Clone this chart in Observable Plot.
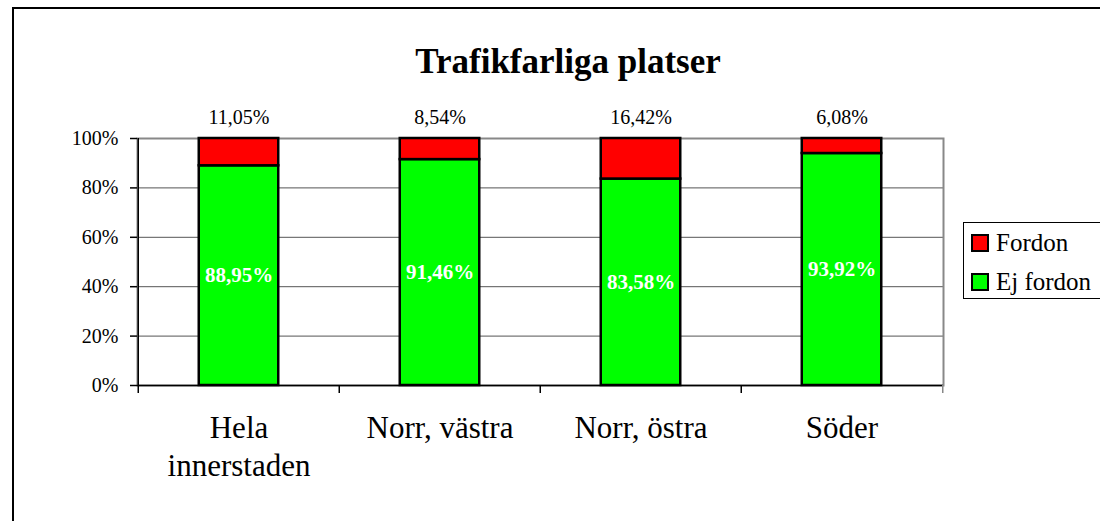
<!DOCTYPE html>
<html>
<head>
<meta charset="utf-8">
<script src="https://cdn.jsdelivr.net/npm/d3@7"></script>
<script src="https://cdn.jsdelivr.net/npm/@observablehq/plot@0.6"></script>
<style>
  html, body { margin: 0; padding: 0; background: #fff; overflow: hidden; }
  #wrap { position: relative; width: 1100px; height: 521px; font-family: "Liberation Serif", "Times New Roman", serif; }
  #border { position: absolute; left: 12px; top: 7px; width: 2000px; height: 2000px; border-left: 2px solid #000; border-top: 2px solid #000; }
  #title { position: absolute; left: 568px; top: 42px; transform: translateX(-50%); font-family: "Liberation Serif", serif; font-size: 35px; font-weight: bold; line-height: 40px; white-space: nowrap; color: #000; }
  #legend { position: absolute; left: 963px; top: 222px; width: 160px; height: 77px; border: 1px solid #000; box-sizing: border-box; }
  .item { position: absolute; left: 7px; display: flex; align-items: center; font-family: "Liberation Serif", serif; font-size: 25px; line-height: 30px; white-space: nowrap; color: #000; }
  .item span { font-family: "Liberation Serif", serif; }
  .sw { width: 14px; height: 14px; border: 2px solid #000; margin-right: 7px; }
  svg { position: absolute; left: 0; top: 0; }
</style>
</head>
<body>
<div id="wrap">
  <div id="border"></div>
  <div id="chart"></div>
  <div id="title"></div>
  <div id="legend"></div>
</div>
<script>
const title = "Trafikfarliga platser";
const categories = ["Hela\ninnerstaden", "Norr, västra", "Norr, östra", "Söder"];
const fordon = [11.05, 8.54, 16.42, 6.08];
const ejFordon = [88.95, 91.46, 83.58, 93.92];
const seriesNames = ["Fordon", "Ej fordon"];
const seriesColors = ["#ff0000", "#00ff00"];
const yTicks = [0, 20, 40, 60, 80, 100];

const fmt = v => v.toFixed(2).replace(".", ",") + "%";

const rows = [];
categories.forEach((c, i) => {
  rows.push({cat: c, series: "Ej fordon", y1: 0, y2: ejFordon[i], value: ejFordon[i]});
  rows.push({cat: c, series: "Fordon", y1: ejFordon[i], y2: ejFordon[i] + fordon[i], value: fordon[i]});
});
const ejRows = rows.filter(d => d.series === "Ej fordon");
const fRows = rows.filter(d => d.series === "Fordon");

const W = 1100, H = 521;
const mL = 137, mR = 157, mT = 138, mB = 136;
const bw = (W - mL - mR) / categories.length;
const barW = 80;
const inset = (bw - barW) / 2;

const chart = Plot.plot({
  width: W,
  height: H,
  marginLeft: mL,
  marginRight: mR,
  marginTop: mT,
  marginBottom: mB,
  style: {fontFamily: "'Liberation Serif', 'Times New Roman', serif", background: "transparent", color: "#000"},
  x: {type: "band", domain: categories, padding: 0, label: null},
  y: {domain: [0, 100], label: null},
  color: {domain: seriesNames, range: seriesColors},
  marks: [
    Plot.gridY({ticks: [20, 40, 60, 80], stroke: "#555", strokeOpacity: 1, strokeWidth: 1}),
    Plot.frame({stroke: "#888", strokeWidth: 2}),
    Plot.barY(rows, {x: "cat", y1: "y1", y2: "y2", fill: "series", stroke: "#000", strokeWidth: 2.5, insetLeft: inset, insetRight: inset}),
    Plot.ruleY([0], {stroke: "#000", strokeWidth: 1.5}),
    Plot.ruleX([categories[0]], {x: d => d, y1: 0, y2: 100, dx: -bw / 2, stroke: "#000", strokeWidth: 1.5}),
    Plot.axisY({ticks: yTicks, tickFormat: d => d + "%", tickSize: 7, tickPadding: 12, fontSize: 20, stroke: "#000", strokeWidth: 1.5}),
    Plot.axisX({ticks: categories, tickSize: 8, tickFormat: () => "", dx: -bw / 2, stroke: "#000", strokeWidth: 1.5}),
    Plot.axisX({ticks: [categories[categories.length - 1]], tickSize: 8, tickFormat: () => "", dx: bw / 2, stroke: "#888", strokeWidth: 1.5}),
    Plot.axisX({ticks: categories, tickSize: 0, tickPadding: 25, fontSize: 31, lineHeight: 1.24}),
    Plot.text(fRows, {x: "cat", y: d => d.y2, text: d => fmt(d.value), dy: -21, fontSize: 20, fill: "#000"}),
    Plot.text(ejRows, {x: "cat", y: d => d.y2 / 2, text: d => fmt(d.value), fontSize: 21, fontWeight: "bold", fill: "#fff"})
  ]
});
document.getElementById("chart").appendChild(chart);

document.getElementById("title").textContent = title;
const legend = document.getElementById("legend");
const legendTops = [5, 44];
seriesNames.forEach((s, i) => {
  const item = document.createElement("div");
  item.className = "item";
  item.style.top = legendTops[i] + "px";
  const sw = document.createElement("div");
  sw.className = "sw";
  sw.style.background = seriesColors[i];
  const lab = document.createElement("span");
  lab.textContent = s;
  item.appendChild(sw);
  item.appendChild(lab);
  legend.appendChild(item);
});
</script>
</body>
</html>
